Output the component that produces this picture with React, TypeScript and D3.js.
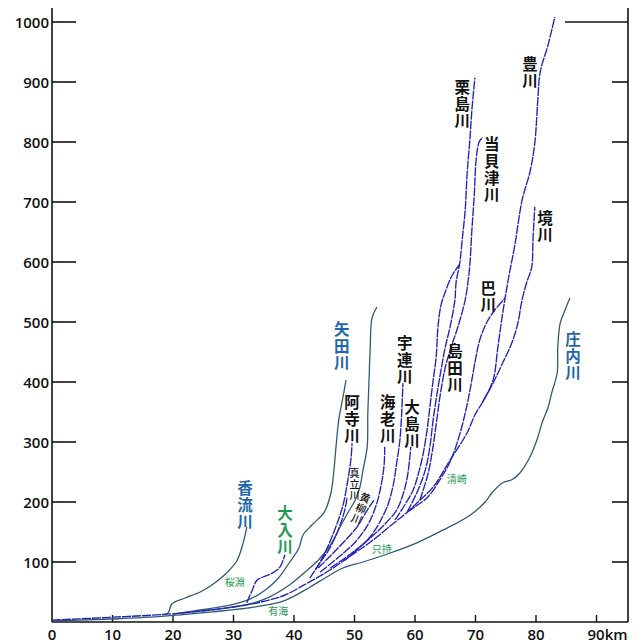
import React from "react";
import * as d3 from "d3";

// ---- data: [km, elevation m] ----
const toyokawa: [number, number][] = [
  [0, 3], [10.1, 8], [19.0, 13], [24.5, 18], [29.9, 25], [34.4, 33], [38.5, 45], [42.6, 67], [46.0, 87],
  [49.3, 110], [52.6, 133], [55.9, 160], [58.7, 183], [60.8, 203], [63.0, 225], [65.8, 270], [68.6, 315],
  [69.9, 345], [71.2, 367], [72.9, 403], [73.7, 458], [74.5, 515], [75.4, 570], [76.5, 628], [77.7, 703],
  [79.0, 750], [79.8, 798], [80.3, 870], [80.7, 917], [82.0, 962], [83.1, 1008],
];
const sakaigawa: [number, number][] = [
  [71.2, 367], [72.9, 398], [74.5, 432], [76.0, 465], [77.0, 498], [77.7, 537], [78.5, 567], [79.3, 592], [79.5, 637], [79.8, 692],
];
const tomoegawa: [number, number][] = [
  [58.7, 183], [60.0, 192], [62.1, 208], [64.1, 237], [65.8, 267], [67.1, 303], [68.3, 348], [69.1, 387],
  [69.9, 432], [70.7, 470], [71.9, 500], [73.2, 520], [74.9, 540],
];
const kurishimagawa: [number, number][] = [
  [58.7, 183], [60.5, 220], [61.8, 257], [62.5, 295], [63.0, 337], [63.6, 378], [64.3, 420], [65.0, 458],
  [65.8, 492], [66.6, 537], [66.8, 567], [67.4, 598], [67.8, 637], [68.3, 687], [68.6, 745], [69.1, 808],
  [69.4, 853], [69.9, 907],
];
const shimadagawa: [number, number][] = [
  [56.7, 170], [58.3, 195], [59.7, 220], [60.5, 245], [61.3, 278], [62.0, 320], [62.5, 362], [63.0, 403],
  [63.5, 442], [63.8, 492], [64.3, 528], [65.1, 553], [66.1, 577], [67.3, 595],
];
const tokaizugawa: [number, number][] = [
  [60.8, 203], [62.1, 245], [62.9, 287], [63.6, 337], [64.3, 387], [65.1, 428], [66.1, 462], [67.1, 492],
  [68.3, 537], [68.8, 570], [69.1, 600], [69.4, 653], [69.8, 712], [70.1, 770], [70.6, 800], [71.2, 808],
];
const uregawa: [number, number][] = [
  [48.4, 103], [50.6, 122], [52.6, 142], [54.2, 167], [55.5, 195], [56.4, 228], [57.0, 267], [57.5, 303], [57.8, 348], [58.0, 398],
];
const oshimagawa: [number, number][] = [
  [46.0, 90], [49.3, 113], [52.6, 140], [55.0, 163], [57.0, 187], [58.0, 212], [58.7, 240], [59.1, 270], [59.3, 292],
];
const ebigawa: [number, number][] = [
  [44.3, 83], [47.6, 110], [50.1, 133], [52.2, 162], [53.6, 195], [54.4, 228], [54.9, 262], [55.0, 292],
];
const aderagawa: [number, number][] = [
  [42.6, 73], [43.9, 93], [45.1, 115], [46.4, 145], [47.6, 178], [48.3, 203], [48.9, 237], [49.4, 270], [49.6, 298],
];
const madachigawa: [number, number][] = [
  [43.5, 87], [44.6, 103], [45.9, 123], [47.3, 153], [48.3, 183], [48.8, 208],
];
const tsugegawa: [number, number][] = [
  [44.0, 90], [46.0, 110], [48.1, 132], [50.4, 158], [51.9, 183], [53.2, 203],
];
const onyugawa: [number, number][] = [
  [32.2, 32], [32.4, 37], [33.1, 53], [33.9, 70], [34.9, 75], [36.5, 82], [37.7, 92], [38.5, 112],
];
const shonaigawa: [number, number][] = [
  [0, 2], [4.6, 3], [9.9, 5], [16.2, 8], [21.2, 12], [26.6, 17], [32.2, 23], [37.7, 33], [39.8, 42], [42.6, 58],
  [45.4, 75], [48.1, 90], [51.4, 100], [55.9, 115], [60.3, 132], [64.6, 153], [69.1, 178], [71.6, 200],
  [72.7, 215], [74.5, 232], [76.0, 237], [77.3, 248], [79.0, 275], [80.3, 308], [81.0, 332], [82.0, 358],
  [82.6, 382], [83.5, 415], [83.6, 458], [84.0, 498], [84.8, 520], [85.6, 540],
];
const kanarigawa: [number, number][] = [
  [18.5, 12], [19.2, 15], [19.8, 30], [22.0, 40], [24.5, 50], [26.6, 63], [28.9, 82], [30.6, 103], [31.6, 132], [32.2, 158],
];
const yadagawa: [number, number][] = [
  [20.0, 13], [24.5, 20], [29.4, 28], [32.7, 38], [35.2, 53], [37.4, 73], [39.3, 100], [40.8, 123], [41.5, 145],
  [43.0, 162], [45.0, 183], [46.1, 215], [46.6, 253], [46.9, 287], [47.4, 337], [48.1, 375], [48.6, 403],
];
const yadaUpper: [number, number][] = [
  [21.2, 15], [27.8, 22], [32.7, 30], [36.0, 42], [39.3, 62], [41.8, 83], [44.0, 103], [46.0, 128], [47.6, 158],
  [48.9, 182], [50.1, 203], [50.9, 225], [51.4, 253], [52.1, 292], [52.2, 348], [52.4, 403], [52.6, 458], [52.9, 507], [53.7, 525],
];

const blueSeries = [toyokawa, sakaigawa, tomoegawa, kurishimagawa, shimadagawa, tokaizugawa, uregawa,
  oshimagawa, ebigawa, aderagawa, madachigawa, tsugegawa, onyugawa];
const tealSeries = [shonaigawa, kanarigawa, yadagawa, yadaUpper];

const xTicks = [0, 10, 20, 30, 40, 50, 60, 70, 80, 90];
const yTicks = [100, 200, 300, 400, 500, 600, 700, 800, 900, 1000];

// labels: text, anchor km, anchor m (centre of first character), kind
const riverLabels: [string, number, number, string][] = [
  ["豊川", 79.0, 932, "black"],
  ["栗島川", 67.8, 893, "black"],
  ["当貝津川", 72.7, 798, "black"],
  ["境川", 81.5, 675, "black"],
  ["巴川", 72.1, 558, "black"],
  ["宇連川", 58.3, 467, "black"],
  ["島田川", 66.6, 453, "black"],
  ["大島川", 59.5, 360, "black"],
  ["海老川", 55.5, 368, "black"],
  ["阿寺川", 49.6, 368, "black"],
  ["矢田川", 47.9, 490, "blue"],
  ["香流川", 31.9, 225, "blue"],
  ["大入川", 38.5, 183, "green"],
  ["庄内川", 86.1, 473, "blue"],
];
const smallLabels: [string, number, number][] = [
  ["桜淵", 30.2, 67],
  ["有海", 37.4, 20],
  ["只持", 54.5, 123],
  ["清崎", 66.9, 240],
];

const W = 643, H = 643;
const x = d3.scaleLinear().domain([0, 90]).range([52, 596.5]);
const y = d3.scaleLinear().domain([0, 1000]).range([622, 22]);
const lineL = d3.line<[number, number]>().x(d => x(d[0])).y(d => y(d[1])).curve(d3.curveCatmullRom.alpha(0.5));

const BLUE = "#2222bb";
const TEAL = "#2f5a74";
const LBLUE = "#1f66a8";
const GREEN = "#1f9a55";
const cjk = "'Noto Sans CJK JP', 'Noto Sans', sans-serif";
const num = "'Open Sans', 'DejaVu Sans', sans-serif";

export default function App() {
  const right = 628;
  return (
    <svg width={W} height={H} style={{ position: "absolute", left: 0, top: 0, background: "#fff" }}>
      {/* axes */}
      <line x1={52} x2={52} y1={8} y2={622} stroke="#111" strokeWidth={1.6} />
      <line x1={right} x2={right} y1={8} y2={622} stroke="#111" strokeWidth={1.6} />
      <line x1={52} x2={right} y1={622} y2={622} stroke="#111" strokeWidth={1.6} />
      {yTicks.map(t => (
        <g key={"y" + t}>
          <line x1={52} x2={76} y1={y(t)} y2={y(t)} stroke="#111" strokeWidth={1.6} />
          <line x1={t === 1000 ? 565 : 612} x2={right} y1={y(t)} y2={y(t)} stroke="#111" strokeWidth={1.6} />
          <text x={49} y={y(t)} textAnchor="end" dominantBaseline="central" fontFamily={num} fontWeight={600}
            fontSize={15} fill="#111">{t}</text>
        </g>
      ))}
      {xTicks.map(t => (
        <g key={"x" + t}>
          {t > 0 && <line x1={x(t)} x2={x(t)} y1={622} y2={615} stroke="#111" strokeWidth={1.4} />}
          <text x={t === 90 ? x(t) - 9 : x(t)} y={640} textAnchor={t === 90 ? "start" : "middle"} fontFamily={num}
            fontWeight={600} fontSize={15} fill="#111">{t === 90 ? "90km" : t}</text>
        </g>
      ))}
      {/* rivers */}
      {tealSeries.map((s, i) => (
        <path key={"t" + i} d={lineL(s) || ""} fill="none" stroke={TEAL} strokeWidth={1.3} />
      ))}
      {blueSeries.map((s, i) => (
        <path key={"b" + i} d={lineL(s) || ""} fill="none" stroke={BLUE} strokeWidth={1.35} strokeDasharray="9 1" />
      ))}
      {/* labels, one character per line */}
      {riverLabels.map(([txt, km, m, kind]) => {
        const col = kind === "black" ? "#111" : kind === "blue" ? LBLUE : GREEN;
        return (
          <g key={txt}>
            {Array.from(txt).map((c, i) => (
              <text key={i} x={x(km)} y={y(m) + i * 17} textAnchor="middle" dominantBaseline="central"
                fontFamily={cjk} fontWeight={700} fontSize={15.5} fill={col}>{c}</text>
            ))}
          </g>
        );
      })}
      {Array.from("真立川").map((c, i) => (
        <text key={"m" + i} x={x(50.0)} y={y(250) + i * 11} textAnchor="middle" dominantBaseline="central"
          fontFamily={cjk} fontWeight={500} fontSize={10} fill="#111">{c}</text>
      ))}
      <g transform={`translate(${x(51.8)},${y(208)}) rotate(22)`}>
        {Array.from("黄柳川").map((c, i) => (
          <text key={"k" + i} x={0} y={i * 11.5} textAnchor="middle" dominantBaseline="central"
            fontFamily={cjk} fontWeight={500} fontSize={10.5} fill="#111">{c}</text>
        ))}
      </g>
      {smallLabels.map(([txt, km, m]) => (
        <text key={txt} x={x(km)} y={y(m)} textAnchor="middle" dominantBaseline="central"
          fontFamily={cjk} fontSize={10} fill={GREEN}>{txt}</text>
      ))}
    </svg>
  );
}
